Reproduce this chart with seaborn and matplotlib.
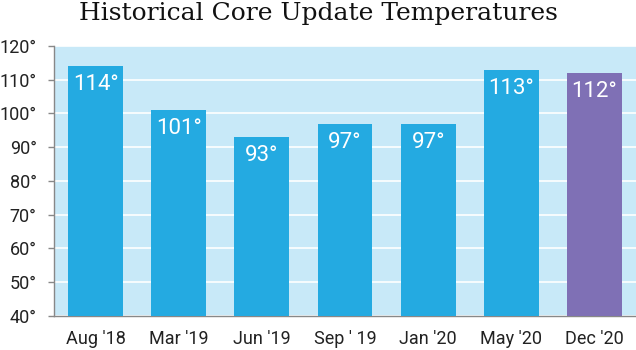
import matplotlib
matplotlib.use("Agg")
import matplotlib.pyplot as plt
import seaborn as sns
import pandas as pd

# Core update release dates and their measured temperatures
dates = ["Aug '18", "Mar '19", "Jun '19", "Sep ' 19", "Jan '20", "May '20", "Dec '20"]
temps = [114, 101, 93, 97, 97, 113, 112]
y_ticks = [40, 50, 60, 70, 80, 90, 100, 110, 120]
bar_colors = ["#24AAE1"] * 6 + ["#7F70B5"]

df = pd.DataFrame({"date": dates, "temp": temps})

sns.set_theme(style="white")
plt.rcParams["font.family"] = ["Roboto", "DejaVu Sans"]

fig = plt.figure(figsize=(6.36, 3.5), dpi=100)
ax = fig.add_axes([54 / 636, 1 - 316 / 350, 582 / 636, 270 / 350])
ax.set_facecolor("#C8E9F8")

sns.barplot(data=df, x="date", y="temp", hue="date", palette=bar_colors,
            legend=False, width=0.66, saturation=1, linewidth=0, ax=ax, zorder=3)

ax.set_ylim(40, 120)
ax.set_xlim(-0.5, len(dates) - 0.5)
ax.set_yticks(y_ticks)
ax.set_yticklabels([f"{t}°" for t in y_ticks])
ax.yaxis.grid(True, color="white", linewidth=1.2, zorder=1)
ax.set_axisbelow(True)

# Category labels centred under bars, tick marks on the category boundaries
ax.set_xticks([i - 0.5 for i in range(len(dates) + 1)])
ax.set_xticklabels([])
ax.set_xticks(range(len(dates)), minor=True)
ax.set_xticklabels(dates, minor=True)
ax.tick_params(axis="x", which="minor", length=0, pad=10, labelsize=13, labelcolor="#222222")
ax.tick_params(axis="x", which="major", length=4.5, width=1, color="#888888", direction="out")
ax.tick_params(axis="y", length=4.5, width=1, color="#888888", pad=8, labelsize=13,
               labelcolor="#222222", left=True)

ax.set_xlabel("")
ax.set_ylabel("")
for side in ["top", "right"]:
    ax.spines[side].set_visible(False)
for side in ["left", "bottom"]:
    ax.spines[side].set_color("#888888")
    ax.spines[side].set_linewidth(1)

for i, v in enumerate(temps):
    ax.text(i, v - 2.4, f"{v}°", ha="center", va="top", color="white",
            fontsize=16, zorder=4)

fig.suptitle("Historical Core Update Temperatures", y=0.995, va="top",
             fontsize=18, family=["DejaVu Serif"], color="#111111")

fig.savefig("out.png", dpi=100)
